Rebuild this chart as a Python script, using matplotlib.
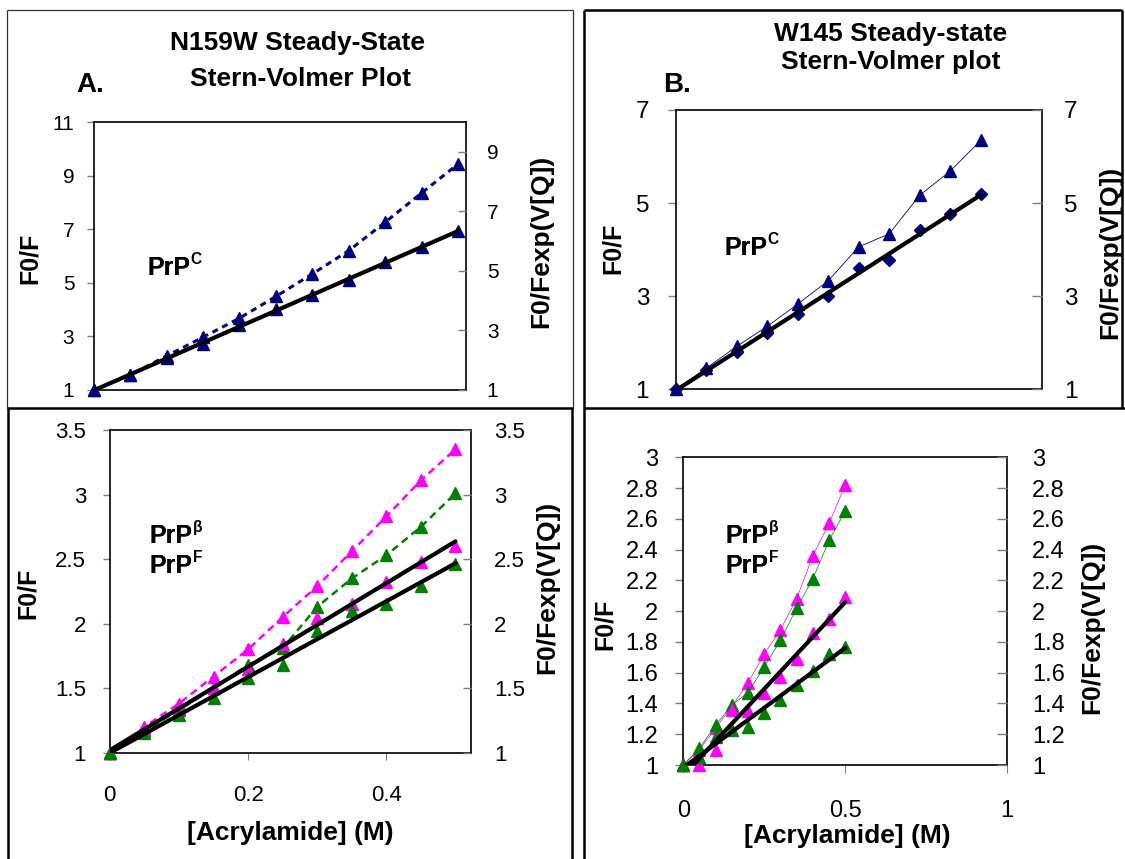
import numpy as np
import matplotlib
matplotlib.use("Agg")
import matplotlib.pyplot as plt
from matplotlib.lines import Line2D

plt.rcParams['font.family'] = ['Liberation Sans', 'DejaVu Sans']

# ---------------- data ----------------
conc = [0, 0.05, 0.10, 0.15, 0.20, 0.25, 0.30, 0.35, 0.40, 0.45, 0.50]

# Panel A (N159W), PrP^C
a_top_f0f = [1, 1.56, 2.27, 2.97, 3.68, 4.49, 5.33, 6.20, 7.26, 8.35, 9.43]
a_top_exp = [1, 1.50, 2.06, 2.56, 3.17, 3.71, 4.18, 4.68, 5.29, 5.79, 6.35]

# Panel B (W145), PrP^C
b_top_f0f = [1, 1.45, 1.92, 2.35, 2.83, 3.33, 4.06, 4.34, 5.17, 5.69, 6.35]
b_top_exp = [1, 1.42, 1.81, 2.22, 2.61, 3.00, 3.60, 3.78, 4.42, 4.76, 5.19]

# Panel A bottom, PrP^beta (magenta) and PrP^F (green)
a_mag_f0f = [1, 1.20, 1.38, 1.59, 1.80, 2.05, 2.29, 2.56, 2.83, 3.11, 3.35]
a_grn_f0f = [1, 1.17, 1.33, 1.50, 1.68, 1.81, 2.13, 2.35, 2.53, 2.75, 3.01]
a_mag_exp = [1, 1.18, 1.35, 1.50, 1.65, 1.84, 2.04, 2.15, 2.32, 2.48, 2.60]
a_grn_exp = [1, 1.15, 1.29, 1.42, 1.58, 1.68, 1.94, 2.10, 2.15, 2.29, 2.46]

# Panel B bottom
b_mag_f0f = [1, 1.10, 1.24, 1.38, 1.535, 1.72, 1.88, 2.08, 2.36, 2.57, 2.82]
b_grn_f0f = [1, 1.11, 1.26, 1.39, 1.47, 1.64, 1.81, 2.02, 2.21, 2.46, 2.65]
b_mag_exp = [1, 1.00, 1.10, 1.36, 1.35, 1.47, 1.57, 1.69, 1.86, 1.95, 2.09]
b_grn_exp = [1, 1.05, 1.18, 1.23, 1.25, 1.34, 1.42, 1.52, 1.61, 1.72, 1.77]

NAVY = '#000080'
MAG = '#FF00FF'
GRN = '#008000'
SPINE = '#000000'
TICKC = '#7f7f7f'

W, H = 1125, 859
fig = plt.figure(figsize=(W / 100, H / 100), dpi=100)


def fx(x):
    return x / W


def fy(y):
    return 1 - y / H


def make_axes(l, t, r, b):
    return fig.add_axes([fx(l), fy(b), fx(r) - fx(l), fy(t) - fy(b)])


def style(ax, tw, fs, lpad, rpad, ticklen=5):
    for s in ax.spines.values():
        s.set_color(SPINE)
        s.set_linewidth(1.2)
    ax.tick_params(axis='y', direction='out', length=ticklen, width=1,
                   color=TICKC, labelsize=fs, pad=lpad)
    tw.tick_params(axis='y', direction='in', length=ticklen + 1, width=1,
                   color=TICKC, labelsize=fs, pad=rpad)
    for s in tw.spines.values():
        s.set_visible(False)


def fit_line(ax, x, y):
    k, c = np.polyfit(x, y, 1)
    xs = np.array([x[0], x[-1]])
    ax.plot(xs, k * xs + c, color='black', lw=3.0, solid_capstyle='round',
            zorder=5, gid='fit')


def bold(x, y, s, fs, **kw):
    fig.text(fx(x), fy(y), s, fontsize=fs, fontweight='bold', **kw)


def prp(x, y, sup, fs=18):
    t = fig.text(fx(x), fy(y), 'PrP', fontsize=fs, fontweight='bold',
                 ha='left', va='baseline')
    fig.add_artist(t)
    plt.annotate(sup, xy=(1.0, 1.0), xycoords=t, xytext=(0.5, 3.0),
                 textcoords='offset points', fontsize=fs * 0.62,
                 fontweight='bold', ha='left', va='top',
                 annotation_clip=False)


MS = 9

# ---------------- Panel A top ----------------
ax1 = make_axes(93.8, 122, 466, 390)
tw1 = ax1.twinx()
ax1.plot(conc, a_top_f0f, color=NAVY, lw=2.2, ls=(0, (2.0, 1.6)),
         marker='^', ms=MS, mec=NAVY, mfc=NAVY, zorder=4)
tw1.plot(conc, a_top_exp, ls='none', marker='^', ms=MS, mec=NAVY, mfc=NAVY,
         zorder=4)
fit_line(tw1, conc, a_top_exp)
ax1.set_xlim(0, 0.511)
ax1.set_ylim(1, 11)
tw1.set_ylim(1, 10)
ax1.set_yticks([1, 3, 5, 7, 9, 11])
tw1.set_yticks([1, 3, 5, 7, 9])
ax1.tick_params(axis='x', bottom=False, labelbottom=False)
style(ax1, tw1, 15, 9, 15)

# ---------------- Panel B top ----------------
ax2 = make_axes(675.5, 110, 1041.9, 389.3)
tw2 = ax2.twinx()
ax2.plot(conc, b_top_f0f, color=NAVY, lw=0.6, marker='^', ms=MS, mec=NAVY,
         mfc=NAVY, zorder=4)
tw2.plot(conc, b_top_exp, ls='none', marker='D', ms=6.5, mec=NAVY, mfc=NAVY,
         zorder=4)
fit_line(tw2, conc, b_top_exp)
ax2.set_xlim(0, 0.6)
ax2.set_ylim(1, 7)
tw2.set_ylim(1, 7)
ax2.set_yticks([1, 3, 5, 7])
tw2.set_yticks([1, 3, 5, 7])
ax2.tick_params(axis='x', bottom=False, labelbottom=False)
style(ax2, tw2, 17.5, 13, 16, ticklen=6)

# ---------------- Panel A bottom ----------------
ax3 = make_axes(109.8, 430, 470.7, 752.7)
tw3 = ax3.twinx()
ax3.plot(conc, a_mag_f0f, color=MAG, lw=1.8, ls=(0, (3.0, 2.0)), marker='^',
         ms=MS, mec=MAG, mfc=MAG, zorder=4)
ax3.plot(conc, a_grn_f0f, color=GRN, lw=1.8, ls=(0, (3.0, 2.0)), marker='^',
         ms=MS, mec=GRN, mfc=GRN, zorder=4)
tw3.plot(conc, a_mag_exp, ls='none', marker='^', ms=MS, mec=MAG, mfc=MAG,
         zorder=4)
tw3.plot(conc, a_grn_exp, ls='none', marker='^', ms=MS, mec=GRN, mfc=GRN,
         zorder=4)
fit_line(tw3, conc, a_mag_exp)
fit_line(tw3, conc, a_grn_exp)
ax3.set_xlim(0, 0.522)
ax3.set_ylim(1, 3.5)
tw3.set_ylim(1, 3.5)
yt = [1, 1.5, 2, 2.5, 3, 3.5]
ax3.set_yticks(yt)
tw3.set_yticks(yt)
ax3.set_yticklabels(['1', '1.5', '2', '2.5', '3', '3.5'])
tw3.set_yticklabels(['1', '1.5', '2', '2.5', '3', '3.5'])
ax3.set_xticks([0, 0.2, 0.4])
ax3.set_xticklabels(['0', '0.2', '0.4'])
ax3.tick_params(axis='x', direction='out', length=5, color=TICKC,
                labelsize=16, pad=18)
style(ax3, tw3, 16, 12, 17)

# ---------------- Panel B bottom ----------------
ax4 = make_axes(683.3, 457.3, 1007.2, 765)
tw4 = ax4.twinx()
ax4.plot(conc, b_mag_f0f, color=MAG, lw=0.5, marker='^', ms=MS, mec=MAG,
         mfc=MAG, zorder=4)
ax4.plot(conc, b_grn_f0f, color=GRN, lw=0.5, marker='^', ms=MS, mec=GRN,
         mfc=GRN, zorder=4)
tw4.plot(conc, b_mag_exp, ls='none', marker='^', ms=MS, mec=MAG, mfc=MAG,
         zorder=4)
tw4.plot(conc, b_grn_exp, ls='none', marker='^', ms=MS, mec=GRN, mfc=GRN,
         zorder=4)
fit_line(tw4, conc, b_mag_exp)
fit_line(tw4, conc, b_grn_exp)
ax4.set_xlim(0, 1)
ax4.set_ylim(1, 3)
tw4.set_ylim(1, 3)
yt4 = [1, 1.2, 1.4, 1.6, 1.8, 2, 2.2, 2.4, 2.6, 2.8, 3]
yl4 = ['1', '1.2', '1.4', '1.6', '1.8', '2', '2.2', '2.4', '2.6', '2.8', '3']
ax4.set_yticks(yt4)
tw4.set_yticks(yt4)
ax4.set_yticklabels(yl4)
tw4.set_yticklabels(yl4)
ax4.set_xticks([0, 0.5, 1])
ax4.set_xticklabels(['0', '0.5', '1'])
ax4.tick_params(axis='x', direction='out', length=6, color=TICKC,
                labelsize=17, pad=19)
style(ax4, tw4, 17, 12, 18, ticklen=6)

for a in (ax1, tw1, ax2, tw2, ax3, tw3, ax4, tw4):
    a.set_facecolor('none')
    for ln in a.lines:
        if ln.get_gid() != 'fit':
            ln.set_clip_on(False)

# ---------------- text ----------------
TFS = 19
bold(298, 43, 'N159W Steady-State', TFS, ha='center', va='center')
bold(300, 79, 'Stern-Volmer Plot', TFS, ha='center', va='center')
bold(76, 92, 'A.', 20, ha='left', va='baseline')
bold(891, 34, 'W145 Steady-state', TFS, ha='center', va='center')
bold(891, 62, 'Stern-Volmer plot', TFS, ha='center', va='center')
bold(663, 92, 'B.', 20, ha='left', va='baseline')

LFS, RFS = 18, 19
bold(30, 258, 'F0/F', LFS, ha='center', va='center', rotation=90)
bold(541, 241, 'F0/Fexp(V[Q])', RFS, ha='center', va='center', rotation=90)
bold(613, 248, 'F0/F', LFS, ha='center', va='center', rotation=90)
bold(1110, 252, 'F0/Fexp(V[Q])', RFS, ha='center', va='center', rotation=90)
bold(28, 593, 'F0/F', LFS, ha='center', va='center', rotation=90)
bold(547, 587, 'F0/Fexp(V[Q])', RFS, ha='center', va='center', rotation=90)
bold(605, 624, 'F0/F', LFS, ha='center', va='center', rotation=90)
bold(1092, 627, 'F0/Fexp(V[Q])', RFS, ha='center', va='center', rotation=90)

bold(290, 833, '[Acrylamide] (M)', 19, ha='center', va='center')
bold(847, 836, '[Acrylamide] (M)', 19, ha='center', va='center')

prp(147, 275, 'C')
prp(724, 255, 'C')
prp(149, 543, 'β')
prp(149, 573, 'F')
prp(725, 543, 'β')
prp(725, 573, 'F')


# ---------------- panel frames ----------------
def seg(x0, y0, x1, y1, lw, color='black'):
    fig.add_artist(Line2D([fx(x0), fx(x1)], [fy(y0), fy(y1)], lw=lw,
                          color=color, solid_capstyle='butt'))


# top-left box (thin)
seg(7, 10, 573, 10, 0.9, '#333333')
seg(7, 10, 7, 408, 0.9, '#333333')
seg(573, 10, 573, 408, 0.9, '#333333')
# top-right box (thick)
seg(584, 10, 1122, 10, 1.8)
seg(584, 10, 584, 859, 1.8)
seg(1122, 10, 1122, 408, 1.8)
# middle separator
seg(7, 408, 573, 408, 1.8)
seg(584, 408, 1125, 408, 1.8)
# bottom-left box
seg(8, 408, 8, 859, 1.8)
seg(572, 408, 572, 859, 1.8)

fig.savefig('out.png', dpi=100)
